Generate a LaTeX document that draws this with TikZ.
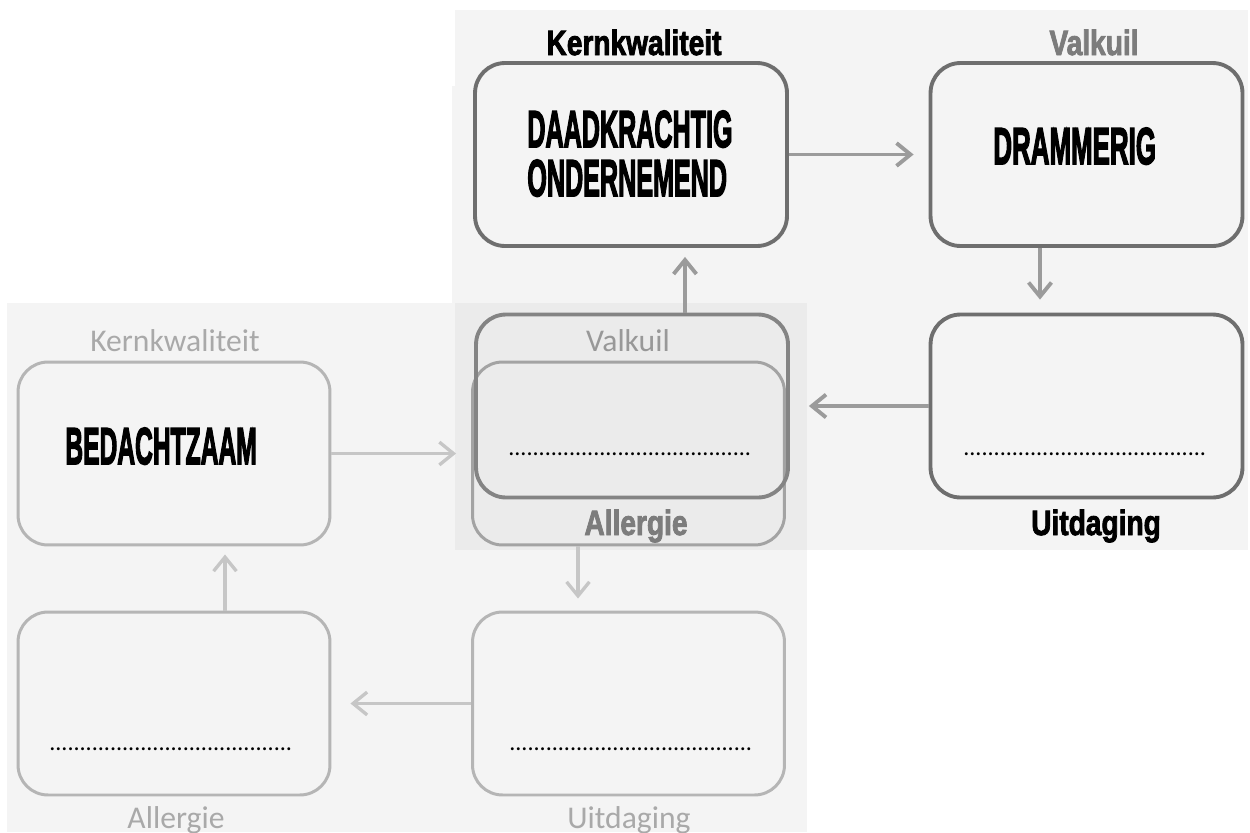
\documentclass[tikz,border=0pt]{standalone}
\usepackage{fontspec}
\setmainfont{Carlito}
\newfontfamily\heavyfont{Liberation Sans}[BoldFeatures={FakeBold=2.6}]
\newfontfamily\heavierfont{Liberation Sans}[BoldFeatures={FakeBold=3.6}]
\newfontfamily\lightfont{Carlito}
\usetikzlibrary{arrows.meta}

\definecolor{panelgray}{HTML}{F4F4F4}
\definecolor{overlapgray}{HTML}{EBEBEB}
\definecolor{boxdark}{HTML}{6E6E6E}
\definecolor{boxlight}{HTML}{B5B5B5}
\definecolor{arrdark}{HTML}{9B9B9B}
\definecolor{arrlight}{HTML}{C6C6C6}
\definecolor{labgrayA}{HTML}{7C7C7C}
\definecolor{labgrayB}{HTML}{A9A9A9}

\newcommand\hsqueeze[2]{\scalebox{#1}[1]{#2}}
% forty dots
\newcommand\dotrow{..........%
..........%
..........%
..........}

\begin{document}
\begin{tikzpicture}[x=0.02cm, y=-0.02cm,
  boxA/.style={draw=boxdark, line width=2.2pt, rounded corners=0.6cm,
    minimum width=6.24cm, minimum height=3.66cm, inner sep=0pt},
  boxB/.style={draw=boxlight, line width=1.7pt, rounded corners=0.6cm,
    minimum width=6.24cm, minimum height=3.66cm, inner sep=0pt},
  arrA/.style={draw=arrdark, line width=2.2pt,
    -{Straight Barb[length=8pt, width=13pt]}},
  arrB/.style={draw=arrlight, line width=1.9pt,
    -{Straight Barb[length=8pt, width=13pt]}},
  labA/.style={font=\heavyfont\bfseries\fontsize{20}{22}\selectfont,
    anchor=base, inner sep=0pt},
  labB/.style={font=\lightfont\fontsize{18}{20}\selectfont, text=labgrayB,
    anchor=base, inner sep=0pt},
  bigword/.style={font=\heavierfont\bfseries\fontsize{29.5}{32}\selectfont,
    anchor=base west, inner sep=0pt},
  dotline/.style={font=\lightfont\fontsize{13.7}{15}\selectfont,
    anchor=base west, inner sep=0pt}]

\useasboundingbox (0,0) rectangle (1250,832);
\fill[white] (0,0) rectangle (1250,832);

% background panels
\fill[panelgray] (455,10) rectangle (1248,550);
\fill[panelgray] (452,86) rectangle (458,303);
\fill[panelgray] (7,303) rectangle (807,832);
\fill[overlapgray] (455,303) rectangle (807,550);

% second (pale) quadrant
\node[boxB] (kq2) at (174,453.5) {};
\node[boxB, draw=boxlight!90!black] (vk2) at (628.5,453.5) {};
\node[boxB] (ud2) at (628.5,703.5) {};
\node[boxB] (al2) at (174,703.5) {};

\coordinate (xb1) at (578,0);
\coordinate (xb2) at (225,0);
\draw[arrB, shorten >=0.3cm] (kq2.east) -- (vk2.west);
\draw[arrB, shorten >=0.24cm] (vk2.south -| xb1) -- (ud2.north -| xb1);
\draw[arrB, shorten >=0.38cm] (ud2.west) -- (al2.east);
\draw[arrB, shorten >=0.16cm] (al2.north -| xb2) -- (kq2.south -| xb2);

% first (dark) quadrant
\node[boxA] (kq1) at (631,154.5) {};
\node[boxA] (vk1) at (1086.5,154.5) {};
\node[boxA] (ud1) at (1086.5,406) {};
\node[boxA, draw=boxdark!85!white] (al1) at (632,406) {};

\coordinate (xa1) at (1040,0);
\coordinate (xa2) at (685,0);
\draw[arrA, shorten >=0.3cm] (kq1.east) -- (vk1.west);
\draw[arrA, shorten >=0.26cm] (vk1.south -| xa1) -- (ud1.north -| xa1);
\draw[arrA, shorten >=0.38cm] (ud1.west) -- (al1.east);
\draw[arrA, shorten >=0.18cm] (al1.north -| xa2) -- (kq1.south -| xa2);

% quadrant labels
\node[labA, text=black] (tkq1) at (634,55) {\hsqueeze{0.8}{Kernkwaliteit}};
\node[labA, text=labgrayA] (tvk1) at (1094,55) {\hsqueeze{0.8}{Valkuil}};
\node[labA, text=black] (tud1) at (1096,535) {\hsqueeze{0.8}{Uitdaging}};
\node[labA, text=labgrayA] (tal1) at (636,535) {\hsqueeze{0.8}{Allergie}};

\node[labB] (tkq2) at (175,351) {Kernkwaliteit};
\node[labB, text=labgrayB!90!black] (tvk2) at (628,351) {Valkuil};
\node[labB] (tud2) at (629,828) {Uitdaging};
\node[labB] (tal2) at (176,828) {Allergie};

% filled-in qualities
\node[bigword] (w1) at (527,147) {\hsqueeze{0.485}{DAADKRACHTIG}};
\node[bigword] (w2) at (527,196) {\hsqueeze{0.485}{ONDERNEMEND}};
\node[bigword] (w3) at (993,164) {\hsqueeze{0.5}{DRAMMERIG}};
\node[bigword] (w4) at (65,464) {\hsqueeze{0.475}{BEDACHTZAAM}};

% blanks to fill in
\node[dotline] (d1) at (508,455) {\dotrow};
\node[dotline] (d2) at (963,455) {\dotrow};
\node[dotline] (d3) at (49,750) {\dotrow};
\node[dotline] (d4) at (509,750) {\dotrow};

\end{tikzpicture}
\end{document}
